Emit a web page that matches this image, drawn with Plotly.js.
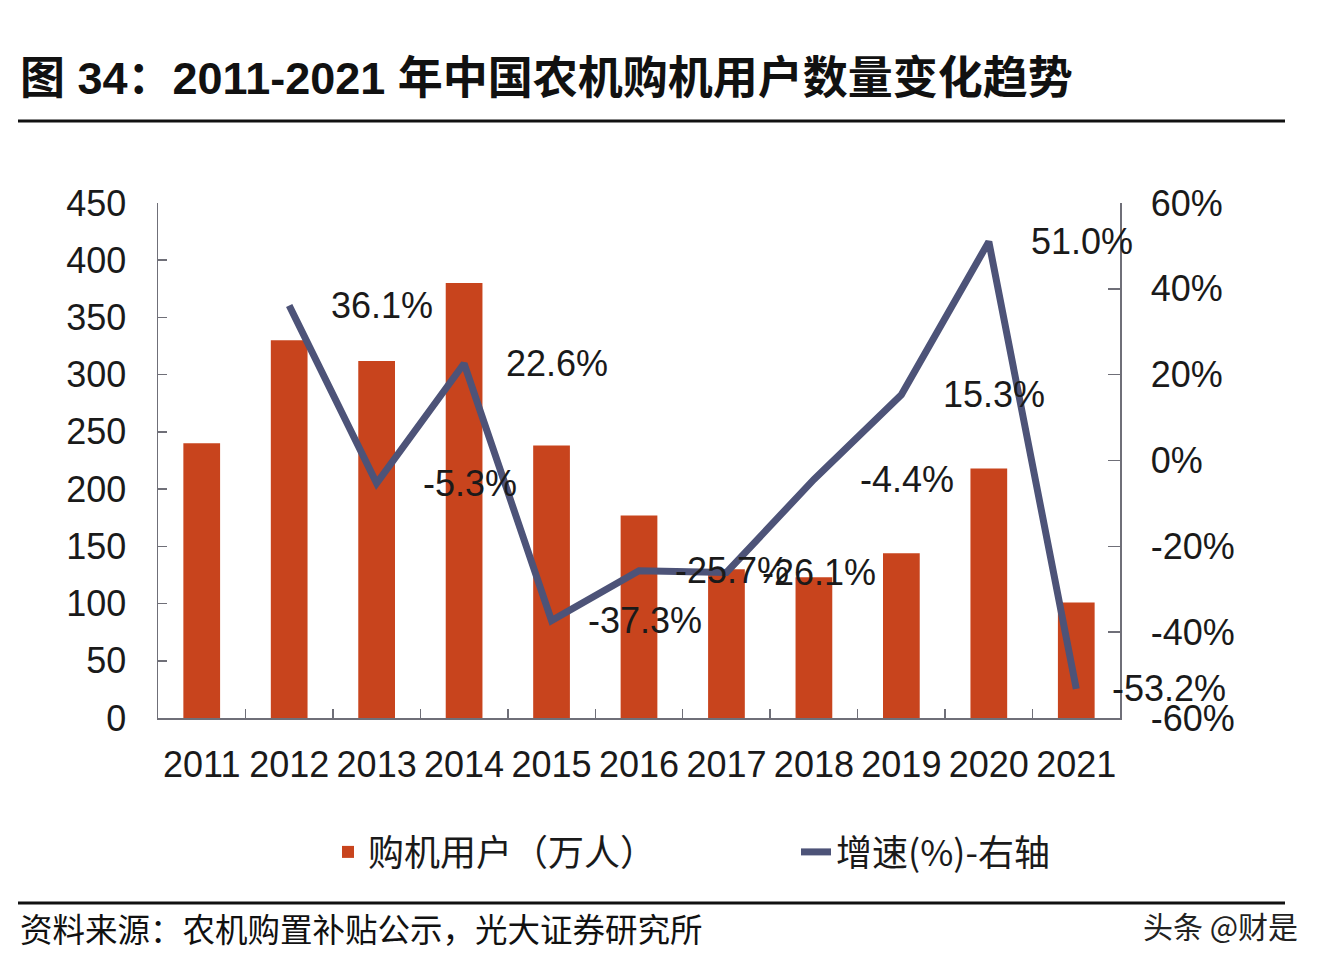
<!DOCTYPE html>
<html>
<head>
<meta charset="utf-8">
<script src="https://cdn.plot.ly/plotly-3.0.1.min.js"></script>
<style>html,body{margin:0;padding:0;background:#fff;}#chart{width:1328px;height:970px;}</style>
</head>
<body>
<div id="chart"></div>
<script>
const years = ['2011','2012','2013','2014','2015','2016','2017','2018','2019','2020','2021'];
const users = [240, 330, 312, 380, 238, 177, 130, 123, 144, 218, 101];
const growth = [null, 36.1, -5.3, 22.6, -37.3, -25.7, -26.1, -4.4, 15.3, 51.0, -53.2];
const leftTicks = [0, 50, 100, 150, 200, 250, 300, 350, 400, 450];
const rightTicks = [-60, -40, -20, 0, 20, 40, 60];
const rightTickText = ['-60%', '-40%', '-20%', '0%', '20%', '40%', '60%'];
const seriesNames = ['购机用户（万人）', '增速(%)-右轴'];
const titleText = '图 34：2011-2021 年中国农机购机用户数量变化趋势';
const sourceText = '资料来源：农机购置补贴公示，光大证券研究所';
const watermark = '头条 @财是';

const W = 1328, H = 970;
const L = 158, R = 1120, T = 203, B = 718;
const px = x => (x - L) / (R - L);
const py = y => (B - y) / (B - T);

const tickFont = {family: 'Liberation Sans, Arial, sans-serif', size: 36, color: '#1a1a1a'};
const cjk = 'Liberation Sans, Noto Sans CJK SC, sans-serif';
const axisColor = '#6f6f78';

const traces = [
  {type: 'bar', x: years, y: users, name: seriesNames[0], marker: {color: '#C8441D'}, width: 0.42, yaxis: 'y'},
  {type: 'scatter', mode: 'lines', x: years, y: growth, name: seriesNames[1], yaxis: 'y2',
   line: {color: '#4D5378', width: 7}, connectgaps: false}
];

const annotations = [];
growth.forEach((v, i) => {
  if (v === null) return;
  annotations.push({x: i, y: v, xref: 'x', yref: 'y2', text: v.toFixed(1) + '%',
    showarrow: false, xshift: 93, font: tickFont, xanchor: 'center', yanchor: 'middle'});
});
annotations.push({xref: 'paper', yref: 'paper', x: px(18), y: py(78), xanchor: 'left', yanchor: 'middle',
  text: '<b>' + titleText + '</b>', showarrow: false, font: {family: cjk, size: 45, color: '#111'}});
annotations.push({xref: 'paper', yref: 'paper', x: px(18), y: py(927), xanchor: 'left', yanchor: 'middle',
  text: sourceText, showarrow: false, font: {family: 'Noto Sans CJK SC, sans-serif', size: 32.5, color: '#111'}});
annotations.push({xref: 'paper', yref: 'paper', x: px(1300), y: py(925), xanchor: 'right', yanchor: 'middle',
  text: watermark, showarrow: false, font: {family: 'Noto Sans CJK SC, sans-serif', size: 30, color: '#222'}});

const layout = {
  width: W, height: H,
  margin: {l: L, r: W - R, t: T, b: H - B},
  paper_bgcolor: '#ffffff', plot_bgcolor: '#ffffff',
  showlegend: true,
  legend: {orientation: 'h', x: px(328), xanchor: 'left', y: py(852), yanchor: 'middle',
    font: {family: 'Noto Sans CJK SC, sans-serif', size: 36, color: '#1a1a1a'},
    entrywidth: 423, entrywidthmode: 'pixels', bgcolor: 'rgba(0,0,0,0)'},
  xaxis: {type: 'category', range: [-0.5, 10.5], autorange: false, showline: true, linecolor: axisColor, linewidth: 1.5,
    ticks: 'inside', tickson: 'boundaries', ticklen: 9, tickcolor: axisColor, tickwidth: 1.5,
    tickfont: tickFont, tickangle: 0, showgrid: false, zeroline: false, ticklabelstandoff: 14},
  yaxis: {range: [0, 450], autorange: false, tickvals: leftTicks, showline: true, linecolor: axisColor, linewidth: 1.5,
    ticks: 'inside', ticklen: 9, tickcolor: axisColor, tickwidth: 1.5, tickfont: tickFont,
    showgrid: false, zeroline: false, ticklabelstandoff: 23},
  yaxis2: {range: [-60, 60], autorange: false, tickvals: rightTicks, ticktext: rightTickText, overlaying: 'y', side: 'right',
    showline: true, linecolor: axisColor, linewidth: 1.5, ticks: 'inside', ticklen: 12,
    tickcolor: axisColor, tickwidth: 1.5, tickfont: tickFont, showgrid: false, zeroline: false,
    ticklabelstandoff: 22},
  shapes: [
    {type: 'line', xref: 'paper', yref: 'paper', x0: px(18), x1: px(1285), y0: py(121), y1: py(121),
     line: {color: '#111', width: 3}},
    {type: 'line', xref: 'paper', yref: 'paper', x0: px(18), x1: px(1285), y0: py(903), y1: py(903),
     line: {color: '#111', width: 3}}
  ],
  annotations: annotations
};

Plotly.newPlot('chart', traces, layout, {displayModeBar: false, staticPlot: true});
</script>
</body>
</html>
